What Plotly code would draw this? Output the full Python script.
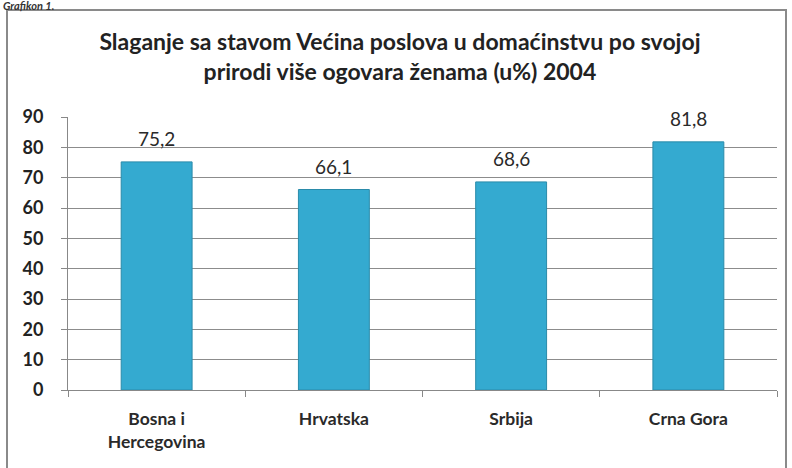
import plotly.graph_objects as go

categories = ["Bosna i<br>Hercegovina", "Hrvatska", "Srbija", "Crna Gora"]
values = [75.2, 66.1, 68.6, 81.8]
y_ticks = [0, 10, 20, 30, 40, 50, 60, 70, 80, 90]
title_text = "Slaganje sa stavom Većina poslova u domaćinstvu po svojoj<br>prirodi više ogovara ženama (u%) 2004"
caption = "Grafikon 1."

W, H = 792, 468
ml, mr, mt, mb = 68, 15, 117, 78
pw, ph = W - ml - mr, H - mt - mb

def px_x(p):
    return (p - ml) / pw

def px_y(p):
    return (H - mb - p) / ph

font_family = "Lato, Open Sans, sans-serif"
labels = [f"{v:.1f}".replace(".", ",") for v in values]

fig = go.Figure(go.Bar(
    x=categories,
    y=values,
    width=0.4,
    marker=dict(color="#34AAD0", line=dict(color="#2A8BAA", width=1)),
    hoverinfo="x+y",
))

for c, v, t in zip(categories, values, labels):
    fig.add_annotation(
        x=c, y=v, text=t, xref="x", yref="y",
        xanchor="center", yanchor="bottom", yshift=10, showarrow=False,
        font=dict(family=font_family, size=19, color="#2a2a2a"),
    )

fig.add_annotation(
    text=f"<i><b>{caption}</b></i>", xref="paper", yref="paper",
    x=px_x(1), y=px_y(-3), xanchor="left", yanchor="top", showarrow=False,
    font=dict(family=font_family, size=11, color="#333333"),
)

fig.update_layout(
    width=W, height=H,
    margin=dict(l=ml, r=mr, t=mt, b=mb, pad=0),
    paper_bgcolor="white",
    plot_bgcolor="white",
    showlegend=False,
    title=dict(
        text=title_text,
        x=0.505, xref="container", xanchor="center",
        y=1 - 50 / H, yref="container", yanchor="top",
        font=dict(family=font_family, size=23, color="#222222", weight=700),
    ),
    xaxis=dict(
        automargin=False,
        showgrid=False,
        showline=True, linecolor="#888888", linewidth=1,
        ticks="outside", tickson="boundaries", ticklen=6, tickcolor="#888888",
        ticklabelstandoff=13,
        tickfont=dict(family=font_family, size=17.5, color="#2a2a2a", weight=700),
    ),
    yaxis=dict(
        automargin=False,
        range=[0, 90],
        tickvals=y_ticks,
        showgrid=True, gridcolor="#8c8c8c", gridwidth=1,
        showline=True, linecolor="#888888", linewidth=1,
        ticks="outside", ticklen=6, tickcolor="#888888",
        ticklabelstandoff=14,
        tickfont=dict(family=font_family, size=18, color="#222222", weight=700),
        zeroline=False,
    ),
    shapes=[dict(
        type="rect", xref="paper", yref="paper",
        x0=px_x(7), x1=px_x(786), y0=px_y(10), y1=px_y(470),
        line=dict(color="#8a8a8a", width=2), fillcolor="rgba(0,0,0,0)", layer="below",
    )],
)

fig.write_html(
    "out.html",
    config={"displayModeBar": False},
    post_script="document.body.style.margin='0';",
)
